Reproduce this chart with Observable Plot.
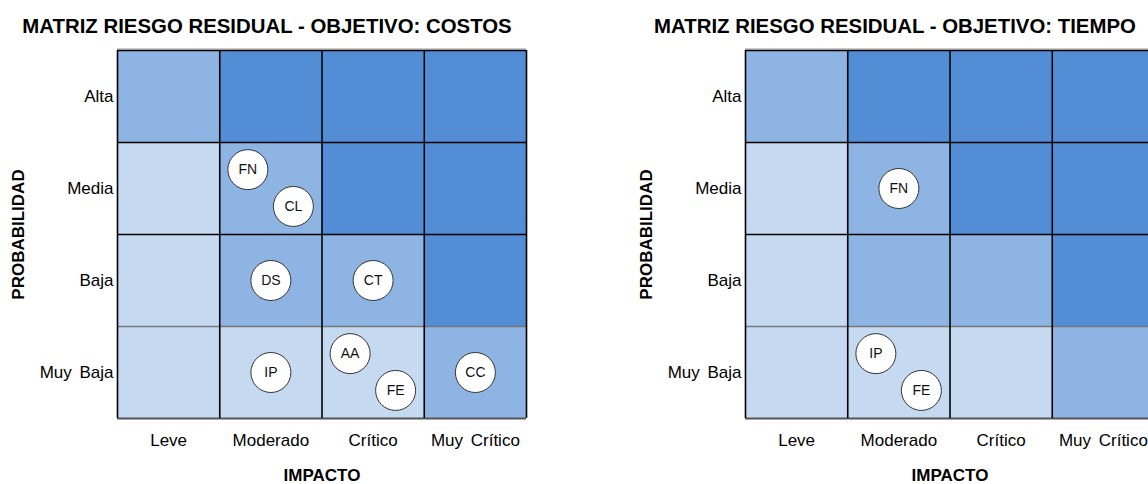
<!DOCTYPE html>
<html><head><meta charset="utf-8">
<script src="https://cdn.jsdelivr.net/npm/d3@7"></script>
<script src="https://cdn.jsdelivr.net/npm/@observablehq/plot@0.6"></script>
<style>
body{margin:0;background:#fff;overflow:hidden;width:1148px;height:484px;font-family:"Liberation Sans",Arial,sans-serif}
#root{position:relative;width:1300px;height:484px}
.chart{position:absolute;top:0;width:628px;height:484px}
.title{position:absolute;top:15.5px;left:0;width:534px;text-align:center;font-weight:bold;font-size:20.4px;line-height:20px;white-space:nowrap;color:#000}
.plot{position:absolute;top:40px;left:0}
.plot svg g[aria-label^="y-axis"] text,.plot svg g[aria-label^="x-axis"] text{word-spacing:3px}
</style></head><body><div id="root"></div>
<script>
// ---- data ----
const impacts = ["Leve", "Moderado", "Crítico", "Muy Crítico"];
const probabilities = ["Muy Baja", "Baja", "Media", "Alta"];
const levelColors = ["#C5D9F1", "#8DB4E2", "#538DD5"];
// risk level per cell: rows = probabilities (Muy Baja → Alta), cols = impacts
const costosLevels = [
  [0, 0, 0, 1],
  [0, 1, 1, 2],
  [0, 1, 2, 2],
  [1, 2, 2, 2]
];
const tiempoLevels = [
  [0, 0, 0, 1],
  [0, 1, 1, 2],
  [0, 1, 2, 2],
  [1, 2, 2, 2]
];
const costosCodes = ["FN", "CL", "DS", "CT", "IP", "AA", "FE", "CC"];
const costosImpact = ["Moderado", "Moderado", "Moderado", "Crítico", "Moderado", "Crítico", "Crítico", "Muy Crítico"];
const costosProb = ["Media", "Media", "Baja", "Baja", "Muy Baja", "Muy Baja", "Muy Baja", "Muy Baja"];
const tiempoCodes = ["FN", "IP", "FE"];
const tiempoImpact = ["Moderado", "Moderado", "Moderado"];
const tiempoProb = ["Media", "Muy Baja", "Muy Baja"];

function makeChart(title, levels, codes, impArr, probArr, left) {
  const cells = [];
  levels.forEach((row, i) => row.forEach((lv, j) => cells.push({x1: j, x2: j + 1, y1: i, y2: i + 1, level: lv})));
  // place risks; two in one cell are spread diagonally
  const counts = {}, seen = {};
  codes.forEach((c, k) => { const key = impArr[k] + "|" + probArr[k]; counts[key] = (counts[key] || 0) + 1; });
  const risks = codes.map((c, k) => {
    const key = impArr[k] + "|" + probArr[k];
    const n = seen[key] = (seen[key] || 0) + 1;
    let ox = 0, oy = 0;
    if (counts[key] === 2) { ox = n === 1 ? -0.225 : 0.22; oy = n === 1 ? 0.205 : -0.195; }
    return {code: c, x: impacts.indexOf(impArr[k]) + 0.5 + ox, y: probabilities.indexOf(probArr[k]) + 0.5 + oy};
  });
  const ticks = [0.5, 1.5, 2.5, 3.5];
  const plot = Plot.plot({
    width: 628, height: 444,
    marginLeft: 117, marginRight: 102, marginTop: 10, marginBottom: 66,
    x: {domain: [0, 4]},
    y: {domain: [0, 4]},
    color: {type: "ordinal", domain: [0, 1, 2], range: levelColors},
    style: {fontFamily: '"Liberation Sans", Arial, sans-serif', fontSize: "17px", color: "#000", background: "transparent"},
    marks: [
      Plot.rect(cells, {x1: "x1", x2: "x2", y1: "y1", y2: "y2", fill: "level"}),
      Plot.ruleY([4], {stroke: "#999", strokeWidth: 1, dy: -1.5}),
      Plot.ruleY([4, 3, 2], {stroke: "#000", strokeWidth: 1.6}),
      Plot.ruleY([1], {stroke: "#777", strokeWidth: 1.4}),
      Plot.ruleY([0], {stroke: "#555", strokeWidth: 1.8}),
      Plot.ruleX([0, 1, 2, 3, 4], {stroke: "#000", strokeWidth: 1.6}),
      Plot.dot(risks, {x: "x", y: "y", r: 20, fill: "#fff", stroke: "#333", strokeWidth: 1}),
      Plot.text(risks, {x: "x", y: "y", text: "code", fontSize: 14, fill: "#111"}),
      Plot.axisX(ticks, {tickSize: 0, tickPadding: 15, tickFormat: d => impacts[Math.floor(d)], label: null, fontSize: 17}),
      Plot.axisY(ticks, {tickSize: 0, tickPadding: 4, tickFormat: d => probabilities[Math.floor(d)], label: null, fontSize: 17}),
      Plot.text(["IMPACTO"], {frameAnchor: "bottom", dy: 57, fontWeight: "bold", fontSize: 17, lineAnchor: "middle", textAnchor: "middle"}),
      Plot.text(["PROBABILIDAD"], {frameAnchor: "left", dx: -99, rotate: -90, fontWeight: "bold", fontSize: 17, lineAnchor: "middle", textAnchor: "middle"})
    ]
  });
  const wrap = document.createElement("div");
  wrap.className = "chart";
  wrap.style.left = left + "px";
  const t = document.createElement("div");
  t.className = "title";
  t.textContent = title;
  const p = document.createElement("div");
  p.className = "plot";
  p.appendChild(plot);
  wrap.appendChild(t);
  wrap.appendChild(p);
  document.getElementById("root").appendChild(wrap);
}

makeChart("MATRIZ RIESGO RESIDUAL - OBJETIVO: COSTOS", costosLevels, costosCodes, costosImpact, costosProb, 0);
makeChart("MATRIZ RIESGO RESIDUAL - OBJETIVO: TIEMPO", tiempoLevels, tiempoCodes, tiempoImpact, tiempoProb, 628);
</script></body></html>
